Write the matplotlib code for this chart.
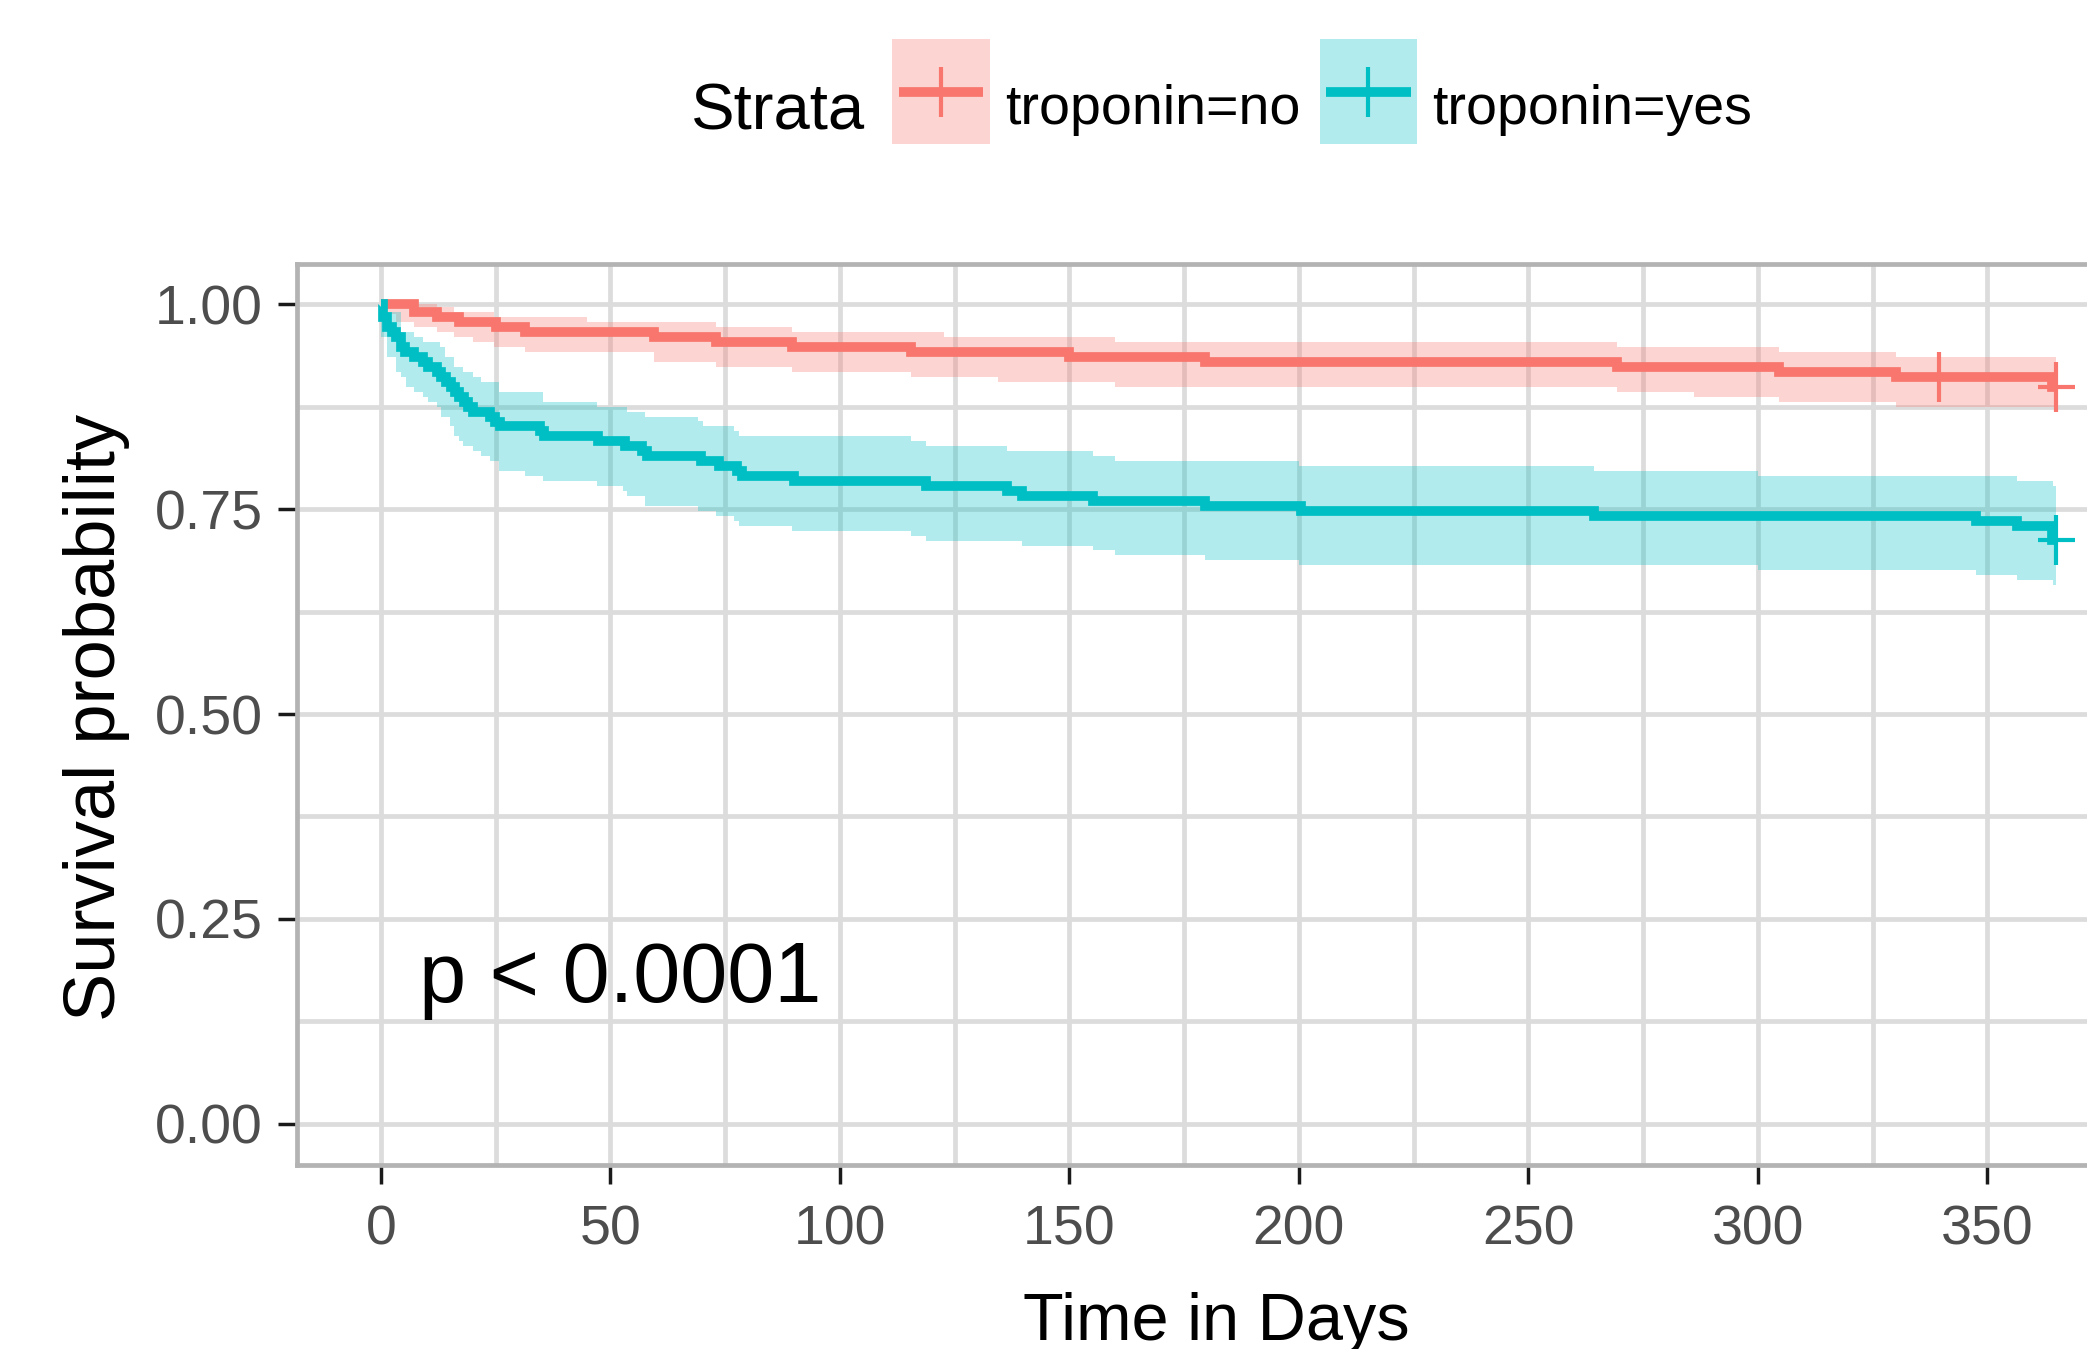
import matplotlib
matplotlib.use("Agg")
import matplotlib.pyplot as plt
from matplotlib.patches import Patch, Rectangle
from matplotlib.lines import Line2D
from matplotlib.path import Path
from matplotlib.legend_handler import HandlerBase
import numpy as np

plt.rcParams['font.family'] = ['Liberation Sans', 'DejaVu Sans']

# ---------------- data ----------------
strata_labels = ['troponin=no', 'troponin=yes']
legend_title = 'Strata'
max_time = 365

# troponin = no
no_time = [0, 7.2, 12.2, 17.0, 25.0, 31.4, 59.5, 73.1, 89.5, 115.6, 150.0,
           179.6, 269.3, 304.5, 330.2, 364.0]
no_surv = [1.000, 0.991, 0.985, 0.979, 0.9725, 0.966, 0.960, 0.954, 0.948,
           0.942, 0.936, 0.930, 0.924, 0.918, 0.9115, 0.8995]
no_ci_time = [0, 3.3, 7.2, 12.2, 16.0, 20.0, 24.7, 31.4, 45.0, 59.5, 73.1,
              89.5, 115.6, 122.6, 134.5, 160.0, 269.3, 286.0, 304.5, 330.2]
no_ci_upper = [1.000, 1.000, 1.000, 0.997, 0.991, 0.991, 0.985, 0.985, 0.979,
               0.979, 0.9725, 0.966, 0.966, 0.960, 0.960, 0.954, 0.948, 0.948,
               0.942, 0.936]
no_ci_lower = [0.988, 0.979, 0.9725, 0.966, 0.960, 0.954, 0.948, 0.942, 0.942,
               0.930, 0.924, 0.918, 0.9115, 0.9115, 0.905, 0.899, 0.893, 0.887,
               0.881, 0.875]
no_censor = [339.5, 365]

# troponin = yes
yes_time = [0, 0.4, 1.3, 2.4, 3.3, 4.4, 5.2, 7.2, 9.2, 10.2, 12.2, 13.1, 14.2,
            15.3, 16.1, 17.1, 18.2, 19.1, 20.2, 23.8, 24.9, 25.9, 34.6, 35.5,
            47.3, 53.1, 57.0, 58.0, 69.7, 73.6, 77.5, 78.6, 90.1, 118.7,
            136.4, 139.6, 155.2, 179.6, 200.4, 264.4, 347.6, 356.4, 364.0]
yes_surv = [1.000, 0.985, 0.9725, 0.966, 0.960, 0.948, 0.942, 0.936, 0.930,
            0.924, 0.918, 0.9115, 0.905, 0.899, 0.893, 0.887, 0.881, 0.875,
            0.869, 0.863, 0.857, 0.851, 0.845, 0.839, 0.833, 0.827, 0.821,
            0.815, 0.809, 0.803, 0.797, 0.791, 0.785, 0.778, 0.772, 0.766,
            0.760, 0.754, 0.748, 0.742, 0.736, 0.730, 0.712]
yes_ci_time = [0, 1.35, 3.3, 4.5, 5.4, 7.3, 9.3, 10.2, 12.2, 12.9, 13.1, 14.1,
               15.1, 16.0, 17.0, 18.0, 20.0, 21.9, 23.8, 25.7, 31.4, 35.3,
               47.0, 52.7, 53.7, 57.6, 69.1, 70.2, 73.1, 77.0, 78.0, 89.5,
               115.6, 118.7, 136.4, 139.6, 155.2, 160.0, 179.6, 200.1, 264.4,
               300.1, 347.6, 356.4, 364.2]
yes_ci_upper = [1.000, 0.991, 0.991, 0.966, 0.966, 0.960, 0.954, 0.954, 0.954,
                0.948, 0.948, 0.936, 0.936, 0.924, 0.924, 0.918, 0.9115, 0.905,
                0.905, 0.893, 0.893, 0.881, 0.875, 0.875, 0.869, 0.863, 0.858,
                0.852, 0.852, 0.846, 0.839, 0.839, 0.833, 0.827, 0.821, 0.821,
                0.815, 0.809, 0.809, 0.803, 0.797, 0.791, 0.791, 0.7845, 0.778]
yes_ci_lower = [0.960, 0.936, 0.918, 0.9115, 0.899, 0.893, 0.887, 0.881, 0.875,
                0.875, 0.863, 0.863, 0.852, 0.839, 0.833, 0.827, 0.821, 0.815,
                0.809, 0.797, 0.7905, 0.784, 0.778, 0.772, 0.766, 0.754, 0.748,
                0.748, 0.742, 0.736, 0.730, 0.723, 0.717, 0.711, 0.711, 0.7056,
                0.700, 0.694, 0.688, 0.682, 0.682, 0.676, 0.670, 0.664, 0.658]
yes_censor = [365]

p_label = 'p < 0.0001'
p_x, p_y = 8.3, 0.149

x_ticks = [0, 50, 100, 150, 200, 250, 300, 350]
x_minor = [25, 75, 125, 175, 225, 275, 325, 375]
y_ticks = [0.00, 0.25, 0.50, 0.75, 1.00]
y_ticklabels = ['0.00', '0.25', '0.50', '0.75', '1.00']
y_minor = [0.125, 0.375, 0.625, 0.875]

# ---------------- styles ----------------
colors = ['#F8766D', '#00BFC4']
grid_col = '#DCDCDC'
border_col = '#B3B3B3'
line_w = 7.0
plus_marker = Path([(-0.74, 0), (0.74, 0), (0, -1), (0, 1)],
                   [Path.MOVETO, Path.LINETO, Path.MOVETO, Path.LINETO])

W, H = 2087, 1349
fig = plt.figure(figsize=(W / 100, H / 100), dpi=100, facecolor='white')
ax = fig.add_axes([297 / W, 1 - 1164.5 / H, 1843 / W, 901 / H])
ax.set_xlim(-18.25, 383.25)
ax.set_ylim(-0.05, 1.05)

groups = [
    (no_time, no_surv, no_ci_time, no_ci_upper, no_ci_lower, no_censor),
    (yes_time, yes_surv, yes_ci_time, yes_ci_upper, yes_ci_lower, yes_censor),
]


def surv_at(times, surv, t):
    i = np.searchsorted(times, t, side='right') - 1
    return surv[i]


for (t, s, ct, cu, cl, cens), c in zip(groups, colors):
    ctx = list(ct) + [max_time]
    ax.fill_between(ctx, list(cl) + [cl[-1]], list(cu) + [cu[-1]], step='post',
                    color=c, alpha=0.3, linewidth=0, zorder=2)
for (t, s, ct, cu, cl, cens), c in zip(groups, colors):
    tx = list(t) + [max_time]
    sx = list(s) + [s[-1]]
    ax.plot(tx, sx, drawstyle='steps-post', color=c, lw=line_w,
            solid_joinstyle='miter', solid_capstyle='butt', zorder=3)
    cs = [surv_at(np.array(t), np.array(s), v) for v in cens]
    ax.plot(cens, cs, ls='none', marker=plus_marker, ms=36, mew=3,
            color=c, zorder=4)

ax.text(p_x, p_y, p_label, fontsize=61, va='baseline', ha='left',
        color='black', zorder=5)

ax.set_xticks(x_ticks)
ax.set_xticks(x_minor, minor=True)
ax.set_yticks(y_ticks)
ax.set_yticklabels(y_ticklabels)
ax.set_yticks(y_minor, minor=True)
ax.set_axisbelow(True)
ax.grid(which='major', color=grid_col, lw=3.4)
ax.grid(which='minor', color=grid_col, lw=3.4)
ax.tick_params(which='minor', length=0)
ax.tick_params(which='major', length=13.7, width=2.5, color='#1A1A1A',
               labelsize=40, labelcolor='#4D4D4D')
ax.tick_params(axis='y', pad=11)
ax.tick_params(axis='x', pad=15)
for sp in ax.spines.values():
    sp.set_color(border_col)
    sp.set_linewidth(3.4)

fig.text(97 / W, 1 - 717 / H, 'Survival probability', rotation=90,
         ha='center', va='center', fontsize=52, color='black')
fig.text(1216 / W, 1 - 1340 / H, 'Time in Days', ha='center', va='baseline',
         fontsize=48, color='black')


# ---------------- legend ----------------
class StrataKeyHandler(HandlerBase):
    """Key = translucent box with the curve line and a '+' mark on top."""

    def __init__(self, below, above, inset, **kw):
        super().__init__(**kw)
        self.below = below
        self.above = above
        self.inset = inset

    def create_artists(self, legend, orig_handle, xdescent, ydescent, width,
                       height, fontsize, trans):
        patch, line = orig_handle
        y0 = -self.below * fontsize
        h = (self.below + self.above) * fontsize
        x0 = -xdescent
        rect = Rectangle((x0, y0), width, h, facecolor=patch.get_facecolor(),
                         edgecolor='none', transform=trans)
        ymid = y0 + h / 2
        ins = self.inset * fontsize
        ln = Line2D([x0 + ins, x0 + width - ins], [ymid, ymid],
                    color=line.get_color(), lw=line.get_linewidth(),
                    solid_capstyle='butt', transform=trans)
        mk = Line2D([x0 + width / 2], [ymid], ls='none',
                    marker=line.get_marker(), ms=line.get_markersize(),
                    mew=line.get_markeredgewidth(), color=line.get_color(),
                    transform=trans)
        return [rect, ln, mk]


fig.text(691 / W, 1 - 129 / H, legend_title, ha='left', va='baseline',
         fontsize=47, color='black')
handles = []
for c in colors:
    handles.append((Patch(facecolor=c, alpha=0.3, edgecolor='none'),
                    Line2D([], [], color=c, lw=line_w, marker=plus_marker,
                           markersize=36, markeredgewidth=3)))
fig.legend(handles, strata_labels, loc='lower left',
           bbox_to_anchor=(892 / W, 1 - 136 / H), ncol=2, frameon=False,
           fontsize=40, handlelength=1.76, handleheight=1.0,
           handletextpad=0.27, columnspacing=0.35, borderpad=0,
           borderaxespad=0,
           handler_map={tuple: StrataKeyHandler(0.36, 1.53, 0.12)})

fig.savefig('out.png', dpi=100, facecolor='white')
